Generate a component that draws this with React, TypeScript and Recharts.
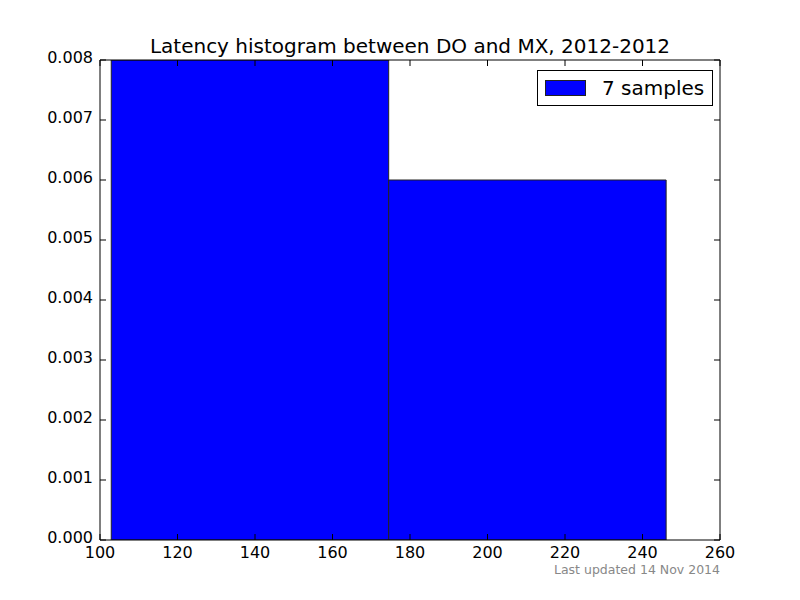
import { BarChart, Bar, XAxis, YAxis } from "recharts";

// histogram bins (bin centers) and density values
const binCenters = [138.7, 210.3];
const binWidth = 71.6;
const densities = [0.008, 0.006];
const xTicks = [100, 120, 140, 160, 180, 200, 220, 240, 260];
const yTicks = [0, 0.001, 0.002, 0.003, 0.004, 0.005, 0.006, 0.007, 0.008];
const seriesLabel = "7 samples";

const W = 800;
const H = 600;
const X_AXIS_H = 60;
const TOP_AXIS_H = 60;
const Y_AXIS_W = 100;
const RIGHT_AXIS_W = 80;
const X_DOMAIN: [number, number] = [100, 260];
const PLOT_W = W - RIGHT_AXIS_W - Y_AXIS_W;
const FONT = "'DejaVu Sans', sans-serif";

const data = binCenters.map((c, i) => ({ center: c, density: densities[i] }));
const barPx = (binWidth * PLOT_W) / (X_DOMAIN[1] - X_DOMAIN[0]);

const tickStyle = { fontSize: 16, fill: "#000", fontFamily: FONT };
const noLabel = () => <g />;

function LegendBox() {
  return (
    <div
      style={{
        position: "absolute",
        left: 537,
        top: 70,
        border: "1px solid #000",
        background: "#fff",
        display: "flex",
        alignItems: "center",
        padding: "5px 8px 5px 7px",
        fontFamily: FONT,
        fontSize: 20,
      }}
    >
      <span
        style={{
          display: "inline-block",
          width: 39,
          height: 14,
          background: "#0000ff",
          border: "1px solid #222",
          marginRight: 16,
        }}
      />
      <span>{seriesLabel}</span>
    </div>
  );
}

export default function App() {
  return (
    <div style={{ position: "absolute", left: 0, top: 0, width: W, height: H, background: "#fff" }}>
      <div
        style={{
          position: "absolute",
          left: 100,
          width: PLOT_W,
          top: 34,
          textAlign: "center",
          fontFamily: FONT,
          fontSize: 20,
          color: "#000",
        }}
      >
        Latency histogram between DO and MX, 2012-2012
      </div>
      <BarChart
        width={W}
        height={H}
        data={data}
        margin={{ top: 0, right: 0, bottom: 0, left: 0 }}
        barCategoryGap={0}
      >
        <XAxis
          xAxisId="bottom"
          dataKey="center"
          type="number"
          domain={X_DOMAIN}
          ticks={xTicks}
          allowDataOverflow
          height={X_AXIS_H}
          tickSize={-6}
          tickMargin={13}
          stroke="#000"
          tick={tickStyle}
        />
        <XAxis
          xAxisId="top"
          orientation="top"
          dataKey="center"
          type="number"
          domain={X_DOMAIN}
          ticks={xTicks}
          allowDataOverflow
          height={TOP_AXIS_H}
          tickSize={-6}
          stroke="#000"
          tick={noLabel}
        />
        <YAxis
          yAxisId="left"
          type="number"
          domain={[0, 0.008]}
          ticks={yTicks}
          allowDataOverflow
          width={Y_AXIS_W}
          tickSize={-6}
          tickMargin={13}
          stroke="#000"
          tick={{ ...tickStyle, dy: -3 }}
          tickFormatter={(v: number) => v.toFixed(3)}
        />
        <YAxis
          yAxisId="right"
          orientation="right"
          type="number"
          domain={[0, 0.008]}
          ticks={yTicks}
          allowDataOverflow
          width={RIGHT_AXIS_W}
          tickSize={-6}
          stroke="#000"
          tick={noLabel}
        />
        <Bar
          xAxisId="bottom"
          yAxisId="left"
          dataKey="density"
          name={seriesLabel}
          fill="#0000ff"
          stroke="#222"
          strokeWidth={1}
          barSize={barPx}
          isAnimationActive={false}
        />
      </BarChart>
      <LegendBox />
      <div
        style={{
          position: "absolute",
          right: W - 720,
          top: 562,
          fontFamily: FONT,
          fontSize: 12.5,
          color: "#888",
        }}
      >
        Last updated 14 Nov 2014
      </div>
    </div>
  );
}
